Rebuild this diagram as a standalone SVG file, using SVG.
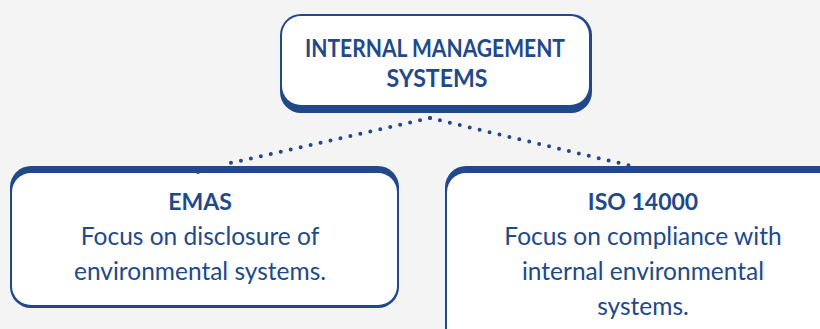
<svg xmlns="http://www.w3.org/2000/svg" width="820" height="329" viewBox="0 0 820 329">
<style>
.bg{fill:#f4f4f4}
.edge{fill:#21498a}
.face{fill:#ffffff}
.t{font-family:Lato,"Open Sans","Liberation Sans",sans-serif;fill:#21498a;text-anchor:middle}
.h{font-weight:bold;font-size:23px}
.b{font-size:24.5px}
.title{font-weight:bold;font-size:25px}
.dots{fill:none;stroke:#21498a;stroke-width:4;stroke-linecap:round;stroke-dasharray:0 10.2}
</style>
<rect class="bg" x="0" y="0" width="820" height="329"/>
<g id="connectors">
<path class="dots" d="M430 118 L226 164"/>
<path class="dots" d="M430 118 L636 167"/>
</g>
<g id="top">
<rect class="edge" x="280" y="14" width="312" height="99" rx="21"/>
<rect class="face" x="282" y="16" width="307" height="89" rx="19"/>
<text class="t title" x="435" y="57" textLength="260" lengthAdjust="spacingAndGlyphs">INTERNAL MANAGEMENT</text>
<text class="t title" x="437" y="87" textLength="101" lengthAdjust="spacingAndGlyphs">SYSTEMS</text>
</g>
<g id="emas">
<rect class="edge" x="10" y="166" width="389" height="142" rx="21"/>
<rect class="face" x="12" y="173" width="385" height="132" rx="19"/>
<circle class="edge" cx="198" cy="172" r="2"/>
<text class="t h" x="200" y="210">EMAS</text>
<text class="t b" x="200" y="245">Focus on disclosure of</text>
<text class="t b" x="200" y="280">environmental systems.</text>
</g>
<g id="iso">
<rect class="edge" x="445" y="166" width="400" height="200" rx="21"/>
<rect class="face" x="447" y="173" width="396" height="190" rx="19"/>
<text class="t h" x="643" y="210">ISO 14000</text>
<text class="t b" x="643" y="245">Focus on compliance with</text>
<text class="t b" x="643" y="280">internal environmental</text>
<text class="t b" x="643" y="315">systems.</text>
</g>
</svg>
